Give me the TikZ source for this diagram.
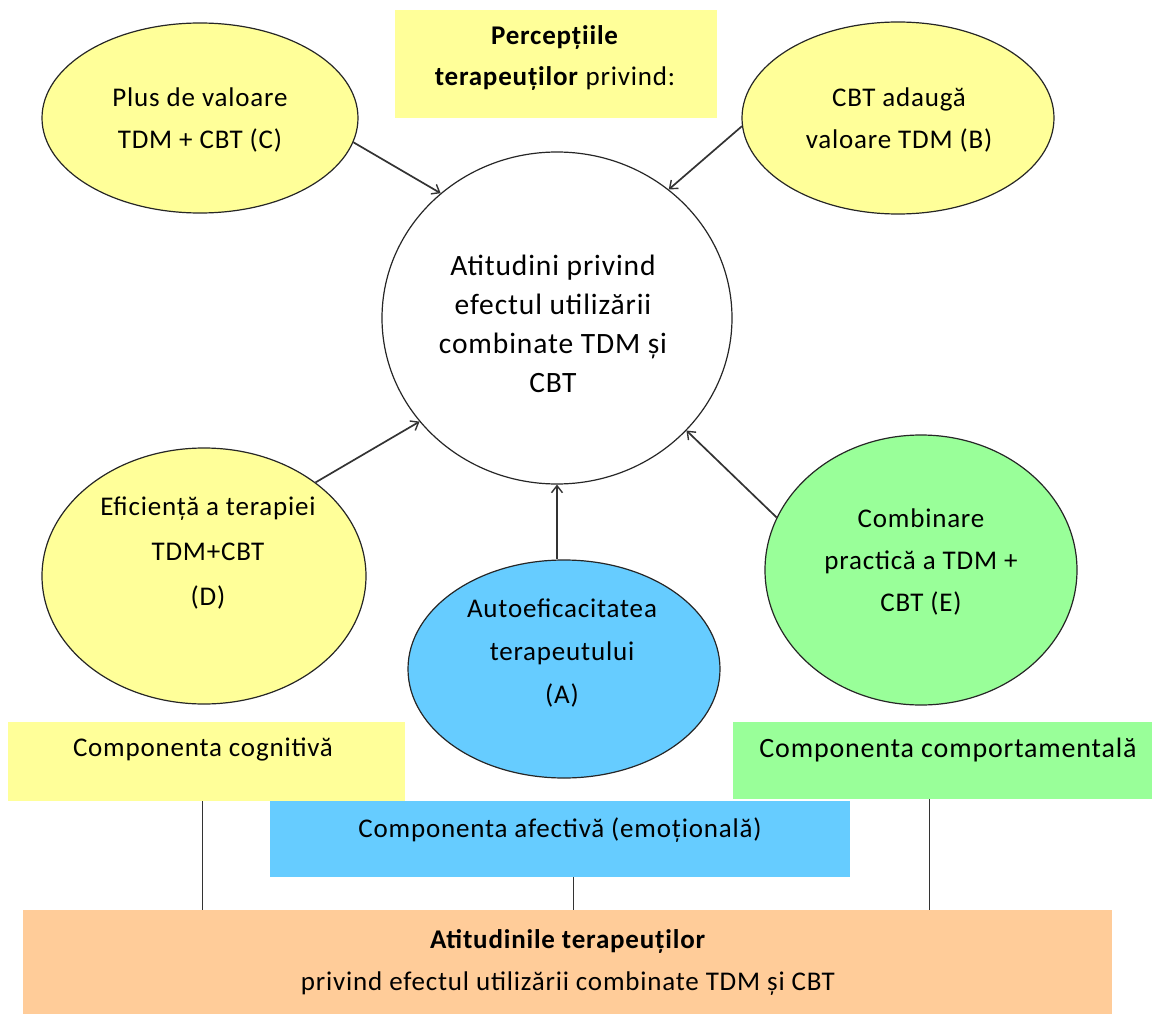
\documentclass[tikz,border=0pt]{standalone}
\usepackage{fontspec}
\setmainfont{Carlito}[LetterSpace=3]
\usetikzlibrary{shapes.geometric,positioning,arrows,arrows.meta}
\definecolor{paleyellow}{HTML}{FFFF99}
\definecolor{skyblue}{HTML}{66CCFF}
\definecolor{palegreen}{HTML}{99FF99}
\definecolor{peach}{HTML}{FFCC99}

\begin{document}
\begin{tikzpicture}[x=1pt,y=-1pt,font=\fontsize{27}{42}\selectfont,
    >={Straight Barb[length=7pt,width=11pt,line width=1.4pt]}]
  \tikzset{bubble/.style={ellipse, draw=black!85, line width=1.2pt, inner sep=0pt}}
  \tikzset{txt/.style={align=center, inner sep=0pt}}
  \tikzset{panel/.style={rectangle, anchor=north west, inner sep=0pt}}
  \tikzset{link/.style={draw=black!80, line width=1.7pt}}

  \useasboundingbox (0,0) rectangle (1152,1014);

  % title box
  \node[panel, fill=paleyellow, minimum width=322, minimum height=108] (percbox) at (395,10) {};
  \node[txt, font=\fontsize{27}{41}\selectfont] (perctxt) at (555,58)
       {\textbf{Percepțiile}\\ \textbf{terapeuților} privind:};

  % ellipses
  \node[bubble, fill=paleyellow, minimum width=316, minimum height=190] (plusC) at (200,118) {};
  \node[txt] (plusCtxt) at (200,120) {Plus de valoare\\TDM + CBT (C)};

  \node[bubble, fill=paleyellow, minimum width=312, minimum height=192] (addB) at (898,118) {};
  \node[txt] (addBtxt) at (899,120) {CBT adaugă\\valoare TDM (B)};

  \node[bubble, fill=white, minimum width=350, minimum height=332] (centre) at (557,318) {};
  \node[txt, font=\fontsize{29.5}{39}\selectfont] (centretxt) at (553,324)
       {Atitudini privind\\efectul utilizării\\combinate TDM și\\CBT};

  \node[bubble, fill=paleyellow, minimum width=324, minimum height=256] (effD) at (204,576) {};
  \node[txt, font=\fontsize{27}{45}\selectfont] (effDtxt) at (208,553)
       {Eficiență a terapiei\\TDM+CBT\\(D)};

  \node[bubble, fill=skyblue, minimum width=312, minimum height=218] (selfA) at (564,669) {};
  \node[txt, font=\fontsize{27}{43}\selectfont] (selfAtxt) at (562,653)
       {Autoeficacitatea\\terapeutului\\(A)};

  \node[bubble, fill=palegreen, minimum width=312, minimum height=270] (combE) at (921,570) {};
  \node[txt] (combEtxt) at (921,562) {Combinare\\practică a TDM +\\CBT (E)};

  % arrows
  \draw[link,->] (plusC.-9) -- (centre.133);
  \draw[link,->] (addB.183) -- (centre.49);
  \draw[link,->] (effD.40) -- (centre.217);
  \draw[link,->] (selfA.north -| centre.south) -- (centre.south);
  \draw[link,->] (combE.160) -- (centre.319);

  % components
  \node[panel, fill=paleyellow, minimum width=397, minimum height=79] (cog) at (8,722) {};
  \node[txt, anchor=base] (cogtxt) at (203,756) {Componenta cognitivă};

  \node[panel, fill=palegreen, minimum width=419, minimum height=77] (beh) at (733,722) {};
  \node[txt, anchor=base, font=\fontsize{28}{42}\selectfont] (behtxt) at (948,757) {Componenta comportamentală};

  \node[panel, fill=skyblue, minimum width=580, minimum height=76] (aff) at (270,801) {};
  \node[txt, anchor=base] (afftxt) at (560,837) {Componenta afectivă (emoțională)};

  \node[panel, fill=peach, minimum width=1089, minimum height=104] (att) at (23,910) {};
  \node[txt, anchor=base] (atttxt1) at (568,948) {\textbf{Atitudinile terapeuților}};
  \node[txt, anchor=base] (atttxt2) at (568,990) {privind efectul utilizării combinate TDM și CBT};

  % links to base
  \draw[link, line width=1.2pt] ([xshift=-4pt]cog.south) -- ([xshift=-4pt]cog.south |- att.north);
  \draw[link, line width=1.2pt] ([xshift=13pt]aff.south) -- ([xshift=13pt]aff.south |- att.north);
  \draw[link, line width=1.2pt] ([xshift=-13pt]beh.south) -- ([xshift=-13pt]beh.south |- att.north);
\end{tikzpicture}
\end{document}
